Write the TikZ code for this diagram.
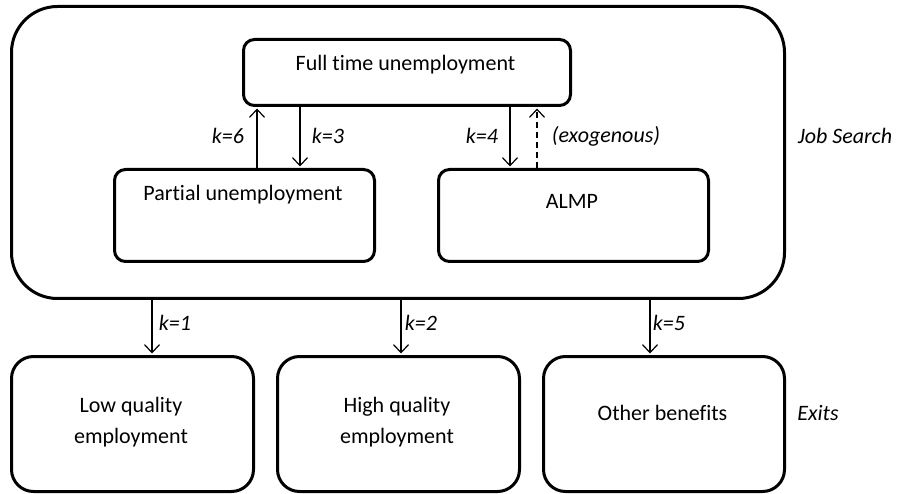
\documentclass[tikz,border=0pt]{standalone}
\usepackage{fontspec}
\setmainfont{Carlito}[Ligatures=NoCommon]
\usetikzlibrary{arrows.meta}
\begin{document}
\begin{tikzpicture}[x=1pt,y=-1pt,
  box/.style={draw, line width=3pt, rounded corners=11pt, anchor=north west, inner sep=0pt},
  arr/.style={line width=1.2pt, -{Straight Barb[length=8pt,width=15pt,line width=1.2pt]}, shorten >=1.5pt},
  lbl/.style={font=\fontsize{22}{26}\selectfont\itshape, inner sep=0pt},
  txt/.style={font=\fontsize{22}{31}\selectfont, inner sep=0pt, align=center}]
\useasboundingbox (0,0) rectangle (897,494);
% outer job-search box
\node[box, rounded corners=46pt, minimum width=773pt, minimum height=292pt] (js) at (10,5) {};
% inner boxes
\node[box, minimum width=327pt, minimum height=66pt] (ft) at (242,38) {};
\node[box, minimum width=260pt, minimum height=92pt] (pu) at (113,168) {};
\node[box, minimum width=270pt, minimum height=92pt] (al) at (437,168) {};
% exit boxes
\node[box, rounded corners=22pt, minimum width=242pt, minimum height=135pt] (lq) at (10,355) {};
\node[box, rounded corners=22pt, minimum width=242pt, minimum height=135pt] (hq) at (276,355) {};
\node[box, rounded corners=22pt, minimum width=241pt, minimum height=135pt] (ob) at (542,355) {};
% box texts
\node[txt] (tft) at (405.5,65) {Full time unemployment};
\node[txt] (tpu) at (243,195) {Partial unemployment};
\node[txt] (tal) at (572,201) {ALMP};
\node[txt] (tlq) at (131,422) {Low quality\\employment};
\node[txt] (thq) at (397,422) {High quality\\employment};
\node[txt] (tob) at (662.5,413) {Other benefits};
% arrow x positions
\coordinate (x6) at (257,0);
\coordinate (x3) at (300,0);
\coordinate (x4) at (510,0);
\coordinate (xe) at (537,0);
\coordinate (x1) at (152,0);
\coordinate (x2) at (401,0);
\coordinate (x5) at (650,0);
% arrows
\draw[arr] (pu.north -| x6) -- (ft.south -| x6);
\draw[arr] (ft.south -| x3) -- (pu.north -| x3);
\draw[arr] (ft.south -| x4) -- (al.north -| x4);
\draw[arr, dash pattern=on 6pt off 4pt] (al.north -| xe) -- (ft.south -| xe);
\draw[arr] (js.south -| x1) -- (lq.north -| x1);
\draw[arr] (js.south -| x2) -- (hq.north -| x2);
\draw[arr] (js.south -| x5) -- (ob.north -| x5);
% labels
\node[lbl] (l6) at (228,136) {k=6};
\node[lbl] (l3) at (328,136) {k=3};
\node[lbl] (l4) at (482,136) {k=4};
\node[lbl] (le) at (606,136) {(exogenous)};
\node[lbl] (ljs) at (845,136) {Job Search};
\node[lbl] (l1) at (175,323) {k=1};
\node[lbl] (l2) at (421,323) {k=2};
\node[lbl] (l5) at (669,323) {k=5};
\node[lbl] (lex) at (818,413) {Exits};
\end{tikzpicture}
\end{document}
